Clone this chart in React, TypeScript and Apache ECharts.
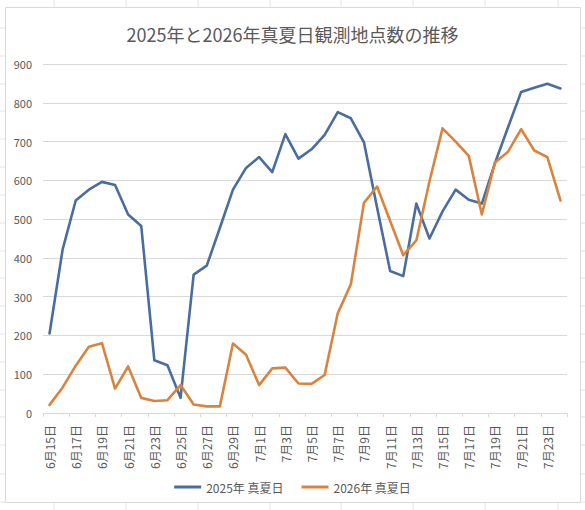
import React, { useEffect, useRef } from "react";
import * as echarts from "echarts";

const title = "2025年と2026年真夏日観測地点数の推移";

const juneDays = [15, 16, 17, 18, 19, 20, 21, 22, 23, 24, 25, 26, 27, 28, 29, 30];
const julyDays = [1, 2, 3, 4, 5, 6, 7, 8, 9, 10, 11, 12, 13, 14, 15, 16, 17, 18, 19, 20, 21, 22, 23, 24];
const categories = [
  ...juneDays.map((d) => `6月${d}日`),
  ...julyDays.map((d) => `7月${d}日`),
];

const series2025Name = "2025年 真夏日";
const series2026Name = "2026年 真夏日";

const values2025 = [
  205, 422, 548, 576, 596, 588, 512, 482, 136, 123, 39, 357, 380, 477, 576, 632,
  660, 621, 719, 656, 680, 717, 776, 760, 698, 530, 366, 353, 540, 450, 520, 576,
  550, 540, 644, 737, 828, 839, 849, 837,
];

const values2026 = [
  21, 66, 122, 171, 180, 63, 120, 39, 31, 33, 72, 22, 17, 17, 179, 150,
  72, 115, 117, 76, 75, 98, 257, 332, 542, 584, 495, 407, 445, 597, 734, 700,
  663, 512, 646, 674, 732, 677, 660, 548,
];

const yTicks = { min: 0, max: 900, interval: 100 };

const cellColumnsX = [54, 126, 198, 270, 341, 413, 485, 558];
const cellRowsY = [28, 56, 84, 111, 139, 167, 195, 223, 251, 278, 306, 334, 362, 390, 417, 445, 474, 502];

const FONT = "'Noto Sans CJK JP', 'Noto Sans', sans-serif";

export default function App() {
  const ref = useRef<HTMLDivElement>(null);

  useEffect(() => {
    if (!ref.current) return;
    const chart = echarts.init(ref.current, undefined, { renderer: "svg" });

    const cellLines: any[] = [];
    cellColumnsX.forEach((x) => {
      cellLines.push({
        type: "line",
        silent: true,
        z: -10,
        shape: { x1: x, y1: 0, x2: x, y2: 7 },
        style: { stroke: "#e3e3e3", lineWidth: 1 },
      });
      cellLines.push({
        type: "line",
        silent: true,
        z: -10,
        shape: { x1: x, y1: 503, x2: x, y2: 510 },
        style: { stroke: "#e3e3e3", lineWidth: 1 },
      });
    });
    cellRowsY.forEach((y) => {
      cellLines.push({
        type: "line",
        silent: true,
        z: -10,
        shape: { x1: 0, y1: y, x2: 5, y2: y },
        style: { stroke: "#e3e3e3", lineWidth: 1 },
      });
      cellLines.push({
        type: "line",
        silent: true,
        z: -10,
        shape: { x1: 581, y1: y, x2: 585, y2: y },
        style: { stroke: "#e3e3e3", lineWidth: 1 },
      });
    });

    chart.setOption({
      animation: false,
      backgroundColor: "#ffffff",
      textStyle: { fontFamily: FONT },
      graphic: [
        ...cellLines,
        {
          type: "rect",
          silent: true,
          z: -5,
          shape: { x: 5.5, y: 7.5, width: 575, height: 495 },
          style: { fill: "#ffffff", stroke: "#d9d9d9", lineWidth: 1 },
        },
      ],
      title: {
        text: title,
        left: "center",
        top: 20,
        textStyle: {
          fontFamily: FONT,
          fontSize: 18,
          fontWeight: "normal",
          color: "#595959",
        },
      },
      legend: {
        top: 476,
        left: "center",
        icon: "rect",
        itemWidth: 27,
        itemHeight: 3,
        itemGap: 18,
        textStyle: { fontFamily: FONT, fontSize: 12, color: "#595959" },
        data: [series2025Name, series2026Name],
      },
      grid: {
        left: 43,
        right: 18,
        top: 64,
        bottom: 97,
        containLabel: false,
      },
      xAxis: {
        type: "category",
        data: categories,
        boundaryGap: true,
        axisLine: { show: true, lineStyle: { color: "#d9d9d9", width: 1 } },
        axisTick: {
          show: true,
          interval: 1,
          length: 4,
          lineStyle: { color: "#d9d9d9" },
        },
        axisLabel: {
          interval: 1,
          rotate: 90,
          margin: 12,
          fontSize: 12,
          color: "#595959",
          fontFamily: FONT,
        },
        splitLine: { show: false },
      },
      yAxis: {
        type: "value",
        min: yTicks.min,
        max: yTicks.max,
        interval: yTicks.interval,
        axisLine: { show: false },
        axisTick: { show: false },
        axisLabel: { fontSize: 11, color: "#595959", margin: 11, fontFamily: FONT },
        splitLine: { show: true, lineStyle: { color: "#d9d9d9", width: 1 } },
      },
      series: [
        {
          name: series2025Name,
          type: "line",
          data: values2025,
          symbol: "none",
          color: "#4A6D9F",
          lineStyle: { width: 2.6, color: "#4A6D9F", join: "round", cap: "round" },
        },
        {
          name: series2026Name,
          type: "line",
          data: values2026,
          symbol: "none",
          color: "#D8843F",
          lineStyle: { width: 2.6, color: "#D8843F", join: "round", cap: "round" },
        },
      ],
    });

    return () => chart.dispose();
  }, []);

  return (
    <div
      ref={ref}
      style={{ position: "absolute", left: 0, top: 0, width: 585, height: 510 }}
    />
  );
}
